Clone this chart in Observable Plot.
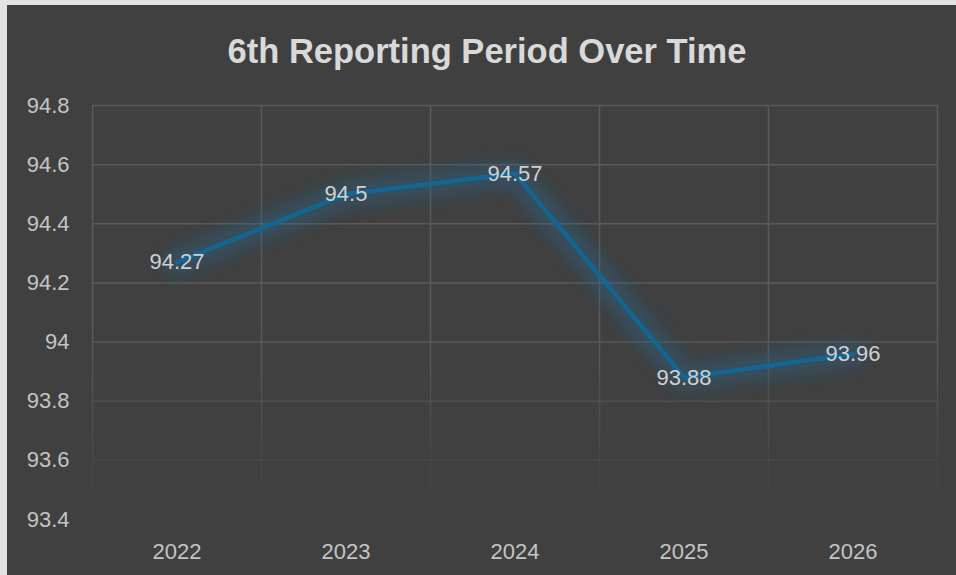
<!DOCTYPE html>
<html><head><meta charset="utf-8">
<script src="https://cdn.jsdelivr.net/npm/d3@7"></script>
<script src="https://cdn.jsdelivr.net/npm/@observablehq/plot@0.6"></script>
<style>
html,body{margin:0;padding:0;background:#e3e3e3;}
#frame{position:absolute;left:7px;top:5px;width:949px;height:570px;background:#404040;overflow:hidden;}
#title{height:90px;box-sizing:border-box;padding-top:28.5px;padding-left:11px;text-align:center;font:bold 34.5px "Liberation Sans",Arial,sans-serif;line-height:34.5px;color:#d9d9d9;white-space:nowrap;}
</style></head><body>
<div id="frame"><div id="title">6th Reporting Period Over Time</div><div id="chart"></div></div>
<script>
const years = [2022, 2023, 2024, 2025, 2026];
const values = [94.27, 94.5, 94.57, 93.88, 93.96];
const yTicks = [93.4, 93.6, 93.8, 94.0, 94.2, 94.4, 94.6, 94.8];

const data = years.map((year, i) => ({year, value: values[i]}));
const bounds = [...years.map(y => y - 0.5), years[years.length - 1] + 0.5];
const font = '"Liberation Sans", Arial, sans-serif';

const plot = Plot.plot({
  width: 949, height: 480,
  marginTop: 10, marginBottom: 56, marginLeft: 85, marginRight: 19,
  style: {background: "#404040", color: "#c9c9c9", fontFamily: font, fontSize: "22px", overflow: "visible"},
  x: {type: "linear", domain: [bounds[0], bounds[bounds.length - 1]]},
  y: {domain: [93.4, 94.8]},
  marks: [
    Plot.ruleY(yTicks, {stroke: "url(#gridFade)", strokeWidth: 1.5}),
    Plot.ruleX(bounds, {y1: 94.8, y2: 93.4, stroke: "url(#gridFade)", strokeWidth: 1.5}),
    Plot.axisY(yTicks, {tickSize: 0, tickPadding: 23, label: null, tickFormat: d => String(+d.toFixed(1)), fontSize: 22, fill: "#c4c4c4"}),
    Plot.axisX(years, {tickSize: 0, tickPadding: 24, label: null, tickFormat: d => String(d), fontSize: 22, fill: "#c4c4c4"}),
    Plot.line(data, {x: "year", y: "value", stroke: "#1d6e9c", strokeWidth: 28, strokeOpacity: 0.32, strokeLinecap: "round", strokeLinejoin: "round"}),
    Plot.line(data, {x: "year", y: "value", stroke: "#156592", strokeWidth: 4.5, strokeLinecap: "round", strokeLinejoin: "round"}),
    Plot.text(data, {x: "year", y: "value", text: d => String(d.value), fill: "#d0d0d0", fontSize: 22, lineAnchor: "middle"})
  ]
});

const ys = plot.scale("y");
const ns = "http://www.w3.org/2000/svg";
const defs = document.createElementNS(ns, "defs");
const grad = document.createElementNS(ns, "linearGradient");
grad.setAttribute("id", "gridFade");
grad.setAttribute("gradientUnits", "userSpaceOnUse");
grad.setAttribute("x1", 0); grad.setAttribute("x2", 0);
grad.setAttribute("y1", ys.apply(94.05));
grad.setAttribute("y2", ys.apply(93.45));
[[0, 1], [1, 0]].forEach(([o, op]) => {
  const s = document.createElementNS(ns, "stop");
  s.setAttribute("offset", o);
  s.setAttribute("stop-color", "#5a5a5a");
  s.setAttribute("stop-opacity", op);
  grad.appendChild(s);
});
defs.appendChild(grad);
const filt = document.createElementNS(ns, "filter");
filt.setAttribute("id", "glow");
filt.setAttribute("x", "-20%"); filt.setAttribute("y", "-40%");
filt.setAttribute("width", "140%"); filt.setAttribute("height", "180%");
const blur = document.createElementNS(ns, "feGaussianBlur");
blur.setAttribute("stdDeviation", 7);
filt.appendChild(blur);
defs.appendChild(filt);
plot.insertBefore(defs, plot.firstChild);
const lines = plot.querySelectorAll('g[aria-label="line"]');
if (lines.length) lines[0].setAttribute("filter", "url(#glow)");

document.getElementById("chart").appendChild(plot);
</script>
</body></html>
